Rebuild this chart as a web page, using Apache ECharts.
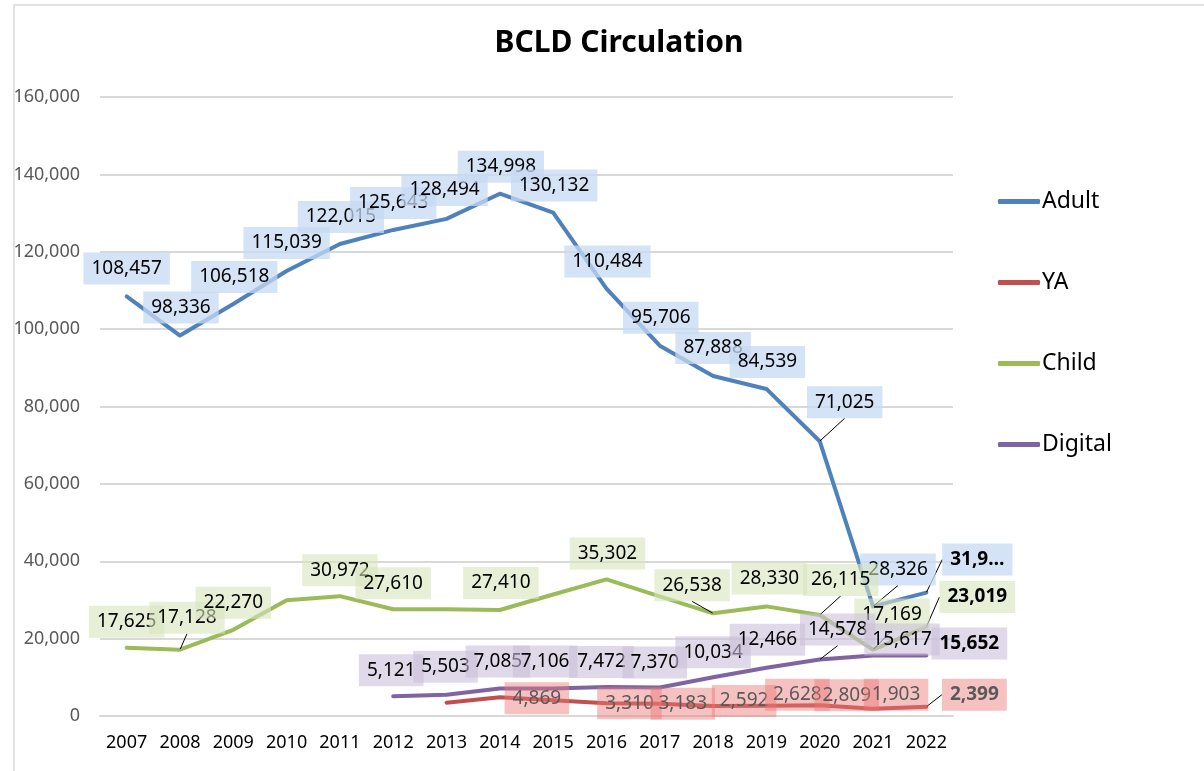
<!DOCTYPE html>
<html>
<head>
<meta charset="utf-8">
<script src="https://cdn.jsdelivr.net/npm/echarts@6/dist/echarts.min.js"></script>
<style>
  html, body { margin: 0; padding: 0; background: #fff; }
  #main { width: 1204px; height: 771px; }
</style>
</head>
<body>
<div id="main"></div>
<script>
  // BCLD circulation by collection, 2007-2022
  let years = ['2007', '2008', '2009', '2010', '2011', '2012', '2013', '2014',
               '2015', '2016', '2017', '2018', '2019', '2020', '2021', '2022'];
  let adult = [108457, 98336, 106518, 115039, 122015, 125643, 128494, 134998,
               130132, 110484, 95706, 87888, 84539, 71025, 28326, 31900];
  let ya = [null, null, null, null, null, null, 3450, 4869,
            4050, 3310, 3183, 2592, 2628, 2809, 1903, 2399];
  let child = [17625, 17128, 22270, 29900, 30972, 27610, 27600, 27410,
               31400, 35302, 30900, 26538, 28330, 26115, 17169, 23019];
  let digital = [null, null, null, null, null, 5121, 5503, 7085,
                 7106, 7472, 7370, 10034, 12466, 14578, 15617, 15652];
  // which points carry a data label (some are blank in the original)
  let adultShown = [1, 1, 1, 1, 1, 1, 1, 1, 1, 1, 1, 1, 1, 1, 1, 1];
  let yaShown = [0, 0, 0, 0, 0, 0, 0, 1, 0, 1, 1, 1, 1, 1, 1, 1];
  let childShown = [1, 1, 1, 0, 1, 1, 0, 1, 0, 1, 0, 1, 1, 1, 1, 1];
  let digitalShown = [0, 0, 0, 0, 0, 1, 1, 1, 1, 1, 1, 1, 1, 1, 1, 1];
  let yTicks = [0, 20000, 40000, 60000, 80000, 100000, 120000, 140000, 160000];

  // label shifts [dx, dy] from the point, plus which ones get a leader line
  let adultShift = [[0,-28],[1,-28],[1,-27],[0,-28],[1,-27],[0,-27],[-2,-29],[1,-27],
                    [1,-27],[1,-27],[1,-28],[0,-28],[1,-27],[25,-39],[25,-37],[51,-33]];
  let childShift = [[0,-26],[7,-32],[0,-27],[0,-26],[0,-26],[0,-26],[0,-26],[1,-27],
                    [0,-26],[1,-26],[0,-26],[-21,-28],[3,-28],[21,-35],[19,-35],[51,-30]];
  let digitalShift = [[0,-26],[0,-26],[0,-26],[0,-26],[0,-26],[-2,-26],[-1,-28],[-2,-27],
                      [-8,-27],[-5,-25],[-5,-25],[0,-25],[1,-28],[18,-30],[29,-16],[43,-12]];
  let yaShift = [[0,0],[0,0],[0,0],[0,0],[0,0],[0,0],[0,0],[37,1],
                 [0,0],[23,0],[23,0],[31,-5],[31,-11],[27,-10],[23,-14],[48,-12]];
  let adultLeader = [13, 14, 15];
  let childLeader = [1, 11, 13, 14, 15];
  let digitalLeader = [13];
  let yaLeader = [15];

  let font = 'Noto Sans';
  let fmt = v => v.toLocaleString('en-US');

  function buildData (values, shown, leader) {
    return values.map((v, i) => {
      if (v === null) return null;
      let item = { value: v };
      if (!shown[i]) item.label = { show: false };
      if (leader.indexOf(i) >= 0) item.labelLine = { show: true };
      if (i === values.length - 1) item.label = { fontWeight: 'bold' };
      return item;
    });
  }

  function makeSeries (name, values, shown, shift, leader, color, bg, txt) {
    return {
      name: name,
      type: 'line',
      data: buildData(values, shown, leader),
      symbol: 'circle',
      symbolSize: 1,
      showAllSymbol: true,
      connectNulls: false,
      lineStyle: { width: 4, color: color, cap: 'round', join: 'round' },
      itemStyle: { color: color },
      label: {
        show: true,
        position: 'inside',
        fontFamily: font,
        fontSize: 19,
        color: txt,
        backgroundColor: bg,
        padding: [7, 8, 6, 8],
        formatter: p => (name === 'Adult' && p.dataIndex === 15) ? '31,9\u2026' : fmt(p.value)
      },
      labelLine: { show: false, lineStyle: { color: '#000', width: 1 } },
      labelLayout: p => ({ dx: shift[p.dataIndex][0], dy: shift[p.dataIndex][1] }),
      emphasis: { disabled: true }
    };
  }

  let chart = echarts.init(document.getElementById('main'));
  let option = {
    backgroundColor: '#fff',
    animation: false,
    title: {
      text: 'BCLD Circulation',
      left: 614,
      textAlign: 'center',
      top: 23,
      textStyle: { fontFamily: font, fontSize: 30, fontWeight: 'bold', color: '#000' }
    },
    legend: {
      orient: 'vertical',
      left: 993,
      top: 185,
      itemGap: 58,
      itemWidth: 42,
      itemHeight: 5,
      icon: 'roundRect',
      textStyle: { fontFamily: font, fontSize: 23, color: '#000', padding: [0, 0, 0, -3] },
      data: ['Adult', 'YA', 'Child', 'Digital']
    },
    grid: { left: 100, right: 251, top: 97, bottom: 55, containLabel: false },
    xAxis: {
      type: 'category',
      data: years,
      boundaryGap: true,
      axisLine: { lineStyle: { color: '#d9d9d9', width: 2 } },
      axisTick: { show: false },
      axisLabel: { interval: 0, fontFamily: font, fontSize: 18, color: '#000', margin: 18 }
    },
    yAxis: {
      type: 'value',
      min: yTicks[0],
      max: yTicks[yTicks.length - 1],
      interval: 20000,
      axisLine: { show: false },
      axisTick: { show: false },
      splitLine: { lineStyle: { color: '#d9d9d9', width: 2 } },
      axisLabel: { fontFamily: font, fontSize: 18, color: '#595959', margin: 20, formatter: v => fmt(v) }
    },
    graphic: [{
      type: 'rect',
      shape: { x: 14, y: 5, width: 1300, height: 900 },
      style: { fill: 'none', stroke: '#d9d9d9', lineWidth: 1.5 },
      silent: true
    }],
    series: [
      makeSeries('Adult', adult, adultShown, adultShift, adultLeader, '#4f81bd', 'rgba(197,217,241,0.75)', '#000'),
      makeSeries('YA', ya, yaShown, yaShift, yaLeader, '#c0504d', 'rgba(235,120,118,0.45)', '#595959'),
      makeSeries('Child', child, childShown, childShift, childLeader, '#9bbb59', 'rgba(215,228,189,0.6)', '#000'),
      makeSeries('Digital', digital, digitalShown, digitalShift, digitalLeader, '#8064a2', 'rgba(204,192,218,0.6)', '#000')
    ]
  };
  chart.setOption(option);
  window.addEventListener('resize', function () {
    chart.resize();
  });
</script>
</body>
</html>
